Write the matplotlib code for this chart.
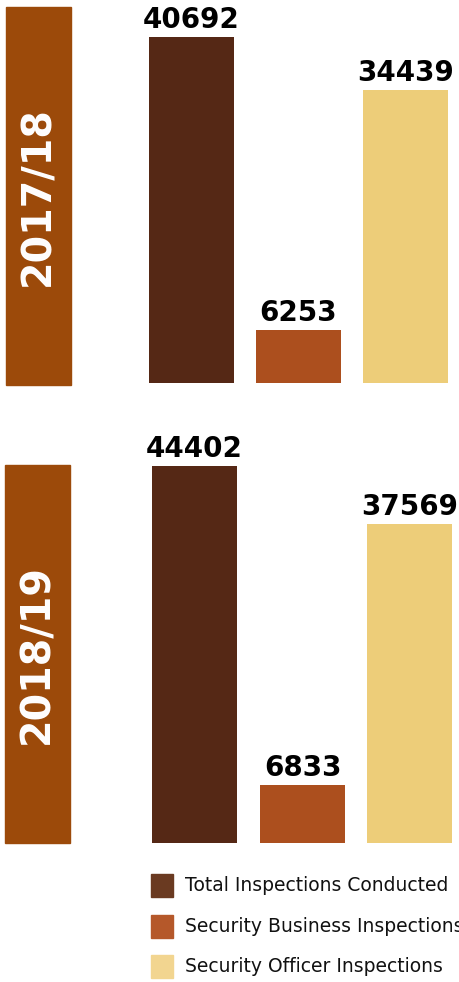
import matplotlib
matplotlib.use("Agg")
import matplotlib.pyplot as plt
from matplotlib.patches import Rectangle

# data
years = ["2017/18", "2018/19"]
categories = ["Total Inspections Conducted", "Security Business Inspections",
              "Security Officer Inspections"]
values_1718 = [40692, 6253, 34439]
values_1819 = [44402, 6833, 37569]

bar_colors = ["#552815", "#ac4f1e", "#edcd79"]
legend_colors = ["#6a3a21", "#b5582a", "#f2d590"]
year_color = "#9c4a0a"

W, H = 459, 982
fig = plt.figure(figsize=(W / 100, H / 100), dpi=100)

px_per_unit = 0.0085

def panel(top, base, centers, vals, year, box):
    # axes in pixel space: x in px, y in data units
    ax = fig.add_axes([0, (H - base) / H, 1, (base - top) / H])
    ax.set_xlim(0, W)
    ax.set_ylim(0, (base - top) / px_per_unit)
    ax.axis("off")
    bars = ax.bar(centers, vals, width=85, color=bar_colors)
    for b, v in zip(bars, vals):
        ax.annotate(str(v), (b.get_x() + b.get_width() / 2, v),
                    xytext=(0, 6.5), textcoords="offset points",
                    ha="center", va="baseline", fontsize=20,
                    fontweight="bold", color="black")
    # year box on the left
    x0, y0, x1, y1 = box
    fig.add_artist(Rectangle((x0 / W, 1 - y1 / H), (x1 - x0) / W, (y1 - y0) / H,
                             transform=fig.transFigure, color=year_color))
    fig.text((x0 + x1) / 2 / W, 1 - (y0 + y1) / 2 / H, year, rotation=90,
             ha="center", va="center", fontsize=28.5, fontweight="bold",
             color="white")

panel(0, 383, [191.5, 298.5, 405.5], values_1718, years[0], (6, 7, 71, 385))
panel(400, 843, [194.5, 302.5, 409.5], values_1819, years[1], (5, 465, 70, 843))

# legend drawn by hand so the long label can run off the edge like the original
for i, (lab, c) in enumerate(zip(categories, legend_colors)):
    ytop = 874 + i * 40.5
    fig.add_artist(Rectangle((151 / W, 1 - (ytop + 23) / H), 22 / W, 23 / H,
                             transform=fig.transFigure, color=c))
    fig.text(185 / W, 1 - (ytop + 11.5) / H, lab, ha="left", va="center",
             fontsize=13.5, color="#111111")

fig.savefig("out.png", dpi=100)
